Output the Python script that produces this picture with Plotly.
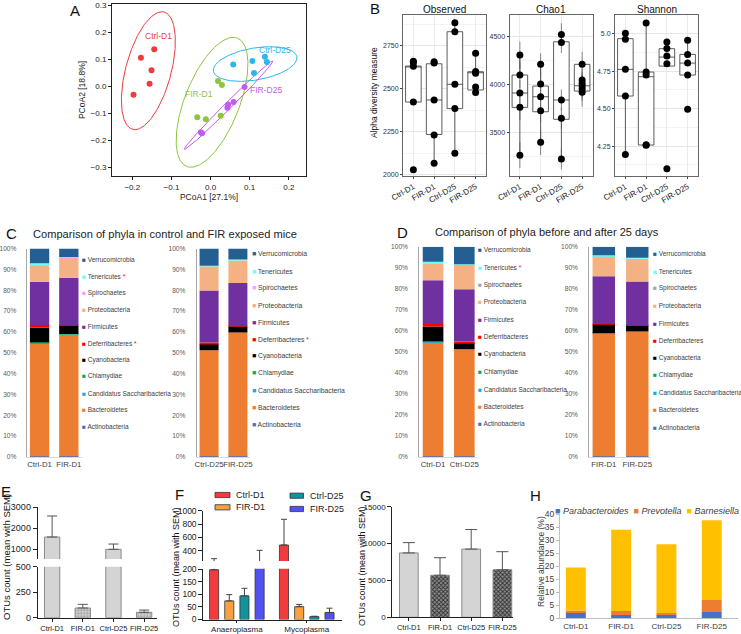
import numpy as np
import plotly.graph_objects as go

W, H = 741, 634


def fx(p):
    return p / W


def fy(p):
    return 1 - p / H


def dom_x(a, b):
    return [a / W, b / W]


def dom_y(t, b):
    return [1 - b / H, 1 - t / H]


SANS = "Liberation Sans, Arial, sans-serif"

# ---------------- Panel A: PCoA ----------------
pcoa_groups = ["Ctrl-D1", "FIR-D1", "Ctrl-D25", "FIR-D25"]
pcoa_colors = ["#EE3B3F", "#8CC63E", "#2CB7EA", "#C35BF2"]
ctrl_d1_pc1 = [-0.144, -0.178, -0.151, -0.156, -0.197]
ctrl_d1_pc2 = [0.137, 0.106, 0.060, 0.010, -0.031]
fir_d1_pc1 = [0.019, 0.029, -0.034, -0.012, 0.026]
fir_d1_pc2 = [0.020, 0.005, -0.114, -0.122, -0.109]
ctrl_d25_pc1 = [0.058, 0.107, 0.139, 0.144, 0.111]
ctrl_d25_pc2 = [0.081, 0.094, 0.110, 0.090, 0.049]
fir_d25_pc1 = [0.087, 0.059, 0.045, 0.043, -0.025, -0.022]
fir_d25_pc2 = [-0.002, -0.058, -0.067, -0.079, -0.170, -0.174]
# confidence ellipses: centre x, centre y, major semi-axis (dx, dy), minor semi-axis (dx, dy)
ellipse_ctrl_d1 = [-0.159, 0.058, 0.0402, 0.2173, 0.0561, -0.0217]
ellipse_fir_d1 = [0.0038, -0.059, 0.0648, 0.2377, 0.0650, -0.0372]
ellipse_ctrl_d25 = [0.1139, 0.0827, 0.1067, 0.0267, 0.0070, -0.0584]
ellipse_fir_d25 = [0.046, -0.0698, 0.113, 0.1636, 0.006, -0.0087]
pcoa_label_x = [-0.133, -0.029, 0.165, 0.141]
pcoa_label_y = [0.186, -0.028, 0.135, -0.014]

# ---------------- Panel B: alpha diversity ----------------
alpha_samples = ["Ctrl-D1", "FIR-D1", "Ctrl-D25", "FIR-D25"]
observed_values = [[2660, 2652, 2630, 2423, 2030],
                   [2657, 2650, 2435, 2232, 2068],
                   [2883, 2831, 2526, 2385, 2126],
                   [2706, 2600, 2590, 2510, 2478]]
observed_q1 = [2423, 2235, 2385, 2493]
observed_median = [2628, 2435, 2526, 2593]
observed_q3 = [2632, 2645, 2831, 2599]
observed_low = [2423, 2068, 2126, 2477]
observed_high = [2660, 2657, 2883, 2706]

chao1_values = [[4308, 4099, 3911, 3761, 3260],
                [4211, 4005, 3872, 3726, 3395],
                [4524, 4440, 3838, 3646, 3221],
                [4211, 4047, 4012, 3984, 3952, 3918]]
chao1_se = [[140, 135, 135, 135, 136],
            [114, 120, 120, 120, 132],
            [116, 110, 110, 110, 108],
            [131, 120, 120, 120, 120, 150]]
chao1_q1 = [3761, 3715, 3636, 3931]
chao1_median = [3911, 3872, 3838, 3987]
chao1_q3 = [4099, 3984, 4447, 4211]
chao1_low = [3260, 3395, 3221, 3918]
chao1_high = [4308, 4211, 4524, 4211]

shannon_values = [[5.003, 4.963, 4.762, 4.584, 4.193],
                  [5.071, 4.745, 4.725, 4.259, 4.255],
                  [4.945, 4.902, 4.851, 4.800, 4.099],
                  [4.956, 4.862, 4.804, 4.724, 4.495]]
shannon_q1 = [4.584, 4.257, 4.784, 4.724]
shannon_median = [4.762, 4.713, 4.844, 4.804]
shannon_q3 = [4.967, 4.744, 4.900, 4.862]
shannon_low = [4.193, 4.255, 4.784, 4.724]
shannon_high = [5.003, 5.071, 4.945, 4.956]

# ---------------- Panels C / D: phyla (stack order bottom -> top) ----------------
phyla = ["Actinobacteria", "Bacteroidetes", "Candidatus Saccharibacteria", "Chlamydiae",
         "Cyanobacteria", "Deferribacteres", "Firmicutes", "Proteobacteria",
         "Spirochaetes", "Tenericutes", "Verrucomicrobia"]
phyla_colors_c = ["#4472C4", "#ED7D31", "#00B0F0", "#00B050", "#000000", "#FF0000",
                  "#7030A0", "#F4B183", "#FF99FF", "#66FFFF", "#255E91"]
phyla_colors_d = ["#4472C4", "#ED7D31", "#00B0F0", "#00B050", "#000000", "#FF0000",
                  "#7030A0", "#F4B183", "#A5A5A5", "#66FFFF", "#255E91"]
phyla_ctrl_d1 = [0.3, 54.5, 0.1, 0.1, 7.0, 1.3, 20.8, 8.0, 0.0, 0.8, 7.1]
phyla_fir_d1 = [0.3, 58.5, 0.1, 0.1, 4.2, 0.1, 22.7, 9.6, 0.1, 0.2, 4.1]
phyla_ctrl_d25 = [0.3, 50.9, 0.0, 0.0, 3.0, 0.7, 24.9, 11.7, 0.0, 0.2, 8.3]
phyla_fir_d25 = [0.3, 59.4, 0.0, 0.0, 3.0, 0.1, 20.7, 10.8, 0.0, 0.4, 5.3]
pct_ticks = list(range(0, 101, 10))
pct_labels = ["%d%%" % v for v in pct_ticks]

# ---------------- Panel E ----------------
e_samples = ["Ctrl-D1", "FIR-D1", "Ctrl-D25", "FIR-D25"]
e_mean = [1586, 95, 1000, 53]
e_sem = [1000, 36, 252, 22]

# ---------------- Panel F ----------------
f_genera = ["Anaeroplasma", "Mycoplasma"]
f_series = ["Ctrl-D1", "FIR-D1", "Ctrl-D25", "FIR-D25"]
f_colors = ["#F23A3F", "#F7A23E", "#13929C", "#5252F2"]
f_ctrl_d1 = [198, 485]
f_fir_d1 = [74, 51]
f_ctrl_d25 = [94, 11.5]
f_fir_d25 = [210, 28]
f_ctrl_d1_sem = [82, 386]
f_fir_d1_sem = [25, 9]
f_ctrl_d25_sem = [30, 1.5]
f_fir_d25_sem = [195, 17]

# ---------------- Panel G ----------------
g_samples = ["Ctrl-D1", "FIR-D1", "Ctrl-D25", "FIR-D25"]
g_mean = [8730, 5700, 9250, 6450]
g_sem = [1400, 2380, 2650, 2450]

# ---------------- Panel H ----------------
h_samples = ["Ctrl-D1", "FIR-D1", "Ctrl-D25", "FIR-D25"]
h_genera = ["Parabacteroides", "Prevotella", "Barnesiella"]
h_colors = ["#4472C4", "#ED7D31", "#FFC000"]
h_parabacteroides = [2.3, 1.3, 1.4, 2.4]
h_prevotella = [0.7, 1.5, 0.6, 4.6]
h_barnesiella = [16.5, 31.2, 26.4, 30.6]

fig = go.Figure()
ann = []
shapes = []

# ================= Panel A =================
pc1 = [ctrl_d1_pc1, fir_d1_pc1, ctrl_d25_pc1, fir_d25_pc1]
pc2 = [ctrl_d1_pc2, fir_d1_pc2, ctrl_d25_pc2, fir_d25_pc2]
ells = [ellipse_ctrl_d1, ellipse_fir_d1, ellipse_ctrl_d25, ellipse_fir_d25]
t = np.linspace(0, 2 * np.pi, 240)
for g, xs, ys, el, col in zip(pcoa_groups, pc1, pc2, ells, pcoa_colors):
    ex = el[0] + el[2] * np.cos(t) + el[4] * np.sin(t)
    ey = el[1] + el[3] * np.cos(t) + el[5] * np.sin(t)
    fig.add_trace(go.Scatter(x=ex, y=ey, mode="lines", line=dict(color=col, width=1),
                             xaxis="x", yaxis="y", hoverinfo="skip"))
for g, xs, ys, el, col in zip(pcoa_groups, pc1, pc2, ells, pcoa_colors):
    fig.add_trace(go.Scatter(x=xs, y=ys, mode="markers", marker=dict(color=col, size=6),
                             xaxis="x", yaxis="y"))
for g, lx, ly, col in zip(pcoa_groups, pcoa_label_x, pcoa_label_y, pcoa_colors):
    ann.append(dict(x=lx, y=ly, xref="x", yref="y", text=g, showarrow=False,
                    xanchor="center", yanchor="middle",
                    font=dict(family=SANS, size=8.5, color=col)))

# ================= Panel B =================
facets = [
    ("x2", "y2", observed_values, None, observed_q1, observed_median, observed_q3, observed_low, observed_high),
    ("x3", "y3", chao1_values, chao1_se, chao1_q1, chao1_median, chao1_q3, chao1_low, chao1_high),
    ("x4", "y4", shannon_values, None, shannon_q1, shannon_median, shannon_q3, shannon_low, shannon_high),
]
for xa, ya, vals, se, q1, med, q3, lo, hi in facets:
    fig.add_trace(go.Box(x=alpha_samples, q1=q1, median=med, q3=q3, lowerfence=lo, upperfence=hi,
                         width=0.75, fillcolor="white", line=dict(color="#333333", width=0.8),
                         whiskerwidth=0, boxpoints=False, xaxis=xa, yaxis=ya))
    xs = [s for s, v in zip(alpha_samples, vals) for _ in v]
    ys = [u for v in vals for u in v]
    err = None
    if se is not None:
        err = dict(type="data", array=[u for v in se for u in v], color="#555555",
                   thickness=0.7, width=0)
    fig.add_trace(go.Scatter(x=xs, y=ys, mode="markers", marker=dict(color="black", size=7),
                             error_y=err, xaxis=xa, yaxis=ya))

# ================= Panels C / D =================
def stacked(xa, ya, names, samples, colors, width):
    arr = np.array(samples, dtype=float)  # samples x phyla
    base = np.cumsum(arr, axis=1) - arr
    for k in range(arr.shape[1]):
        fig.add_trace(go.Bar(x=names, y=arr[:, k], base=base[:, k], width=width, offset=-width / 2,
                             marker=dict(color=colors[k], line=dict(width=0)),
                             xaxis=xa, yaxis=ya))


stacked("x5", "y5", ["Ctrl-D1", "FIR-D1"], [phyla_ctrl_d1, phyla_fir_d1], phyla_colors_c, 0.66)
stacked("x6", "y6", ["Ctrl-D25", "FIR-D25"], [phyla_ctrl_d25, phyla_fir_d25], phyla_colors_c, 0.66)
stacked("x7", "y7", ["Ctrl-D1", "Ctrl-D25"], [phyla_ctrl_d1, phyla_ctrl_d25], phyla_colors_d, 0.66)
stacked("x8", "y8", ["FIR-D1", "FIR-D25"], [phyla_fir_d1, phyla_fir_d25], phyla_colors_d, 0.67)


def phyla_legend(xsq, y0, step, stars, colors, size=6.5):
    order = list(range(len(phyla)))[::-1]
    for i, k in enumerate(order):
        txt = "<span style='color:%s'>■</span> %s" % (colors[k], phyla[k])
        if phyla[k] in stars:
            txt += " <span style='color:#FF0000'>*</span>"
        ann.append(dict(x=fx(xsq), y=fy(y0 + i * step), xref="paper", yref="paper", text=txt,
                        showarrow=False, xanchor="left", yanchor="middle",
                        font=dict(family=SANS, size=size, color="#404040")))


phyla_legend(80.0, 259.3, 16.74, ["Tenericutes", "Deferribacteres"], phyla_colors_c)
phyla_legend(249.7, 254.0, 17.03, ["Deferribacteres"], phyla_colors_c, size=6.8)
phyla_legend(475.7, 249.7, 17.43, ["Tenericutes"], phyla_colors_d)
phyla_legend(650.5, 253.7, 17.33, [], phyla_colors_d)

# ================= Panel E (broken axis) =================
e_patterns = ["", ".", "", "."]
for xa, ya in (("x9", "y9"), ("x10", "y10")):
    fig.add_trace(go.Bar(x=e_samples, y=e_mean, width=0.5, offset=-0.25,
                         marker=dict(color="#D4D4D4", line=dict(color="#8A8A8A", width=1),
                                     pattern=dict(shape=e_patterns, fgcolor="#8C8C8C",
                                                  bgcolor="#D4D4D4", size=3, solidity=0.3)),
                         error_y=dict(type="data", symmetric=False, array=e_sem,
                                      arrayminus=[0] * len(e_sem), color="#555555",
                                      thickness=1, width=5),
                         xaxis=xa, yaxis=ya))

# ================= Panel F (broken axis) =================
f_means = [f_ctrl_d1, f_fir_d1, f_ctrl_d25, f_fir_d25]
f_sems = [f_ctrl_d1_sem, f_fir_d1_sem, f_ctrl_d25_sem, f_fir_d25_sem]
slot = 0.217
bw = 0.13
for xa, ya in (("x11", "y11"), ("x12", "y12")):
    for i, (name, m, s, col) in enumerate(zip(f_series, f_means, f_sems, f_colors)):
        centre = (i - 1.5) * slot
        fig.add_trace(go.Bar(x=f_genera, y=m, width=bw, offset=centre - bw / 2,
                             marker=dict(color=col, line=dict(color="#333333", width=0.8)),
                             error_y=dict(type="data", symmetric=False, array=s,
                                          arrayminus=[0] * len(s), color="#444444",
                                          thickness=1, width=3),
                             xaxis=xa, yaxis=ya))

# ================= Panel G =================
fig.add_trace(go.Bar(x=g_samples, y=g_mean, width=0.6, offset=-0.3,
                     marker=dict(color="#D4D4D4", line=dict(color="#8A8A8A", width=1),
                                 pattern=dict(shape=["", "x", "", "x"], fgcolor="#2E2E2E",
                                              bgcolor="#8F8F8F", size=3, solidity=0.5)),
                     error_y=dict(type="data", symmetric=False, array=g_sem,
                                  arrayminus=[0] * len(g_sem), color="#555555",
                                  thickness=1, width=6),
                     xaxis="x13", yaxis="y13"))

# ================= Panel H =================
h_arr = np.array([h_parabacteroides, h_prevotella, h_barnesiella], dtype=float)
h_base = np.cumsum(h_arr, axis=0) - h_arr
for k in range(3):
    fig.add_trace(go.Bar(x=h_samples, y=h_arr[k], base=h_base[k], width=0.44, offset=-0.22,
                         marker=dict(color=h_colors[k], line=dict(width=0)),
                         xaxis="x14", yaxis="y14"))

# ================= Axes =================
lay = {}
axA = dict(showline=True, mirror=True, linecolor="#222222", linewidth=1, ticks="outside",
           ticklen=3, tickcolor="#222222", showgrid=False, zeroline=False, automargin=False,
           tickfont=dict(family=SANS, size=8, color="#222222"), tickformat=".1f")
lay["xaxis"] = dict(axA, domain=dom_x(112, 306), range=[-0.252, 0.244], anchor="y",
                    tickvals=[-0.2, -0.1, 0.0, 0.1, 0.2],
                    title=dict(text="PCoA1 [27.1%]", font=dict(family=SANS, size=8.5), standoff=3))
lay["yaxis"] = dict(axA, domain=dom_y(4, 176), range=[-0.332, 0.305], anchor="x",
                    tickvals=[-0.3, -0.2, -0.1, 0.0, 0.1, 0.2, 0.3],
                    title=dict(text="PCoA2 [18.8%]", font=dict(family=SANS, size=8.5), standoff=3))

bx_dom = [(403, 486), (509.5, 592.5), (615, 698)]
by_rng = [[1994, 2928], [3043, 4727], [4.05, 5.125]]
by_ticks = [([2000, 2250, 2500, 2750], ["2000", "2250", "2500", "2750"], 125),
            ([3500, 4000, 4500], ["3500", "4000", "4500"], 250),
            ([4.25, 4.5, 4.75, 5.0], ["4.25", "4.50", "4.75", "5.0"], 0.125)]
for j in range(3):
    n = j + 2
    lay["xaxis%d" % n] = dict(domain=dom_x(*bx_dom[j]), anchor="y%d" % n, type="category",
                              categoryorder="array", categoryarray=alpha_samples,
                              range=[-0.5, 3.5], showline=True, mirror=True, linecolor="#666666",
                              linewidth=1, showgrid=True, gridcolor="#EBEBEB", gridwidth=1,
                              ticks="outside", ticklen=2, tickcolor="#444444", tickangle=-30,
                              automargin=False,
                              tickfont=dict(family=SANS, size=8, color="#222222"))
    tv, tt, mdt = by_ticks[j]
    lay["yaxis%d" % n] = dict(domain=dom_y(15, 176), anchor="x%d" % n, range=by_rng[j],
                              tickvals=tv, ticktext=tt, showline=True, mirror=True,
                              linecolor="#666666", linewidth=1, showgrid=True, gridcolor="#E6E6E6",
                              zeroline=False, ticks="outside", ticklen=2, tickcolor="#444444",
                              automargin=False,
                              tickfont=dict(family=SANS, size=7, color="#333333"),
                              minor=dict(tickmode="linear", tick0=0, dtick=mdt, showgrid=True,
                                         gridcolor="#F3F3F3", ticks=""))

cd_x = [("x5", (26.7, 81.7), [-0.44, 1.44], (248.5, 457), 8),
        ("x6", (196.7, 250.0), [-0.43, 1.42], (248.5, 457), 9),
        ("x7", (419.3, 476.5), [-0.44, 1.39], (246.7, 457), 9),
        ("x8", (589.3, 651.0), [-0.433, 1.41], (246.7, 457), 9)]
for xa, xd, xr, yd, sto in cd_x:
    n = xa[1:]
    lay["xaxis%s" % n] = dict(domain=dom_x(*xd), anchor="y%s" % n, range=xr, type="category",
                              showline=True, linecolor="#D9D9D9", linewidth=1, ticks="",
                              showgrid=False, automargin=False, tickangle=0,
                              tickfont=dict(family=SANS, size=7.8, color="#404040"))
    lay["yaxis%s" % n] = dict(domain=dom_y(*yd), anchor="x%s" % n, range=[0, 100],
                              tickvals=pct_ticks, ticktext=pct_labels,
                              showline=True, linecolor="#A6A6A6", linewidth=1, ticks="",
                              ticklabelstandoff=sto, showgrid=False, zeroline=False,
                              automargin=False,
                              tickfont=dict(family=SANS, size=6.6, color="#595959"))


def prism_y(dom, rng, tv, anchor, size=9):
    return dict(domain=dom, range=rng, tickvals=tv, tickformat="d", showline=True,
                linecolor="#222222", linewidth=1, ticks="outside", ticklen=4,
                tickcolor="#222222", tickfont=dict(family=SANS, size=size, color="#222222"),
                showgrid=False, zeroline=False, anchor=anchor, automargin=False)


def prism_x(dom, rng, anchor, size=7.5, ticklen=3):
    return dict(domain=dom, range=rng, type="category", showline=True, linecolor="#222222",
                linewidth=1, ticks="outside", ticklen=ticklen, tickcolor="#222222", tickangle=0,
                tickfont=dict(family=SANS, size=size, color="#222222"), showgrid=False,
                zeroline=False, anchor=anchor, automargin=False)


hidden_x = dict(type="category", visible=False, showgrid=False, zeroline=False, automargin=False)
# E
lay["xaxis9"] = dict(hidden_x, domain=dom_x(37.7, 156.7), range=[-0.47, 3.41], anchor="y9")
lay["yaxis9"] = prism_y(dom_y(507.3, 559), [540, 3000], [1000, 2000, 3000], "x9")
lay["xaxis10"] = prism_x(dom_x(37.7, 156.7), [-0.47, 3.41], "y10")
lay["yaxis10"] = prism_y(dom_y(566.7, 617.7), [0, 500], [0, 250, 500], "x10")
# F
lay["xaxis11"] = dict(hidden_x, domain=dom_x(203.3, 341.7), range=[-0.48, 1.5], anchor="y11")
lay["yaxis11"] = prism_y(dom_y(510.7, 561), [245, 1000], [400, 600, 800, 1000], "x11", size=8.5)
lay["xaxis12"] = prism_x(dom_x(203.3, 341.7), [-0.48, 1.5], "y12", size=8, ticklen=2)
lay["yaxis12"] = prism_y(dom_y(568.7, 619.5), [0, 202], [0, 50, 100, 150, 200], "x12", size=8.5)
# G
lay["xaxis13"] = prism_x(dom_x(392.3, 513.3), [-0.53, 3.35], "y13")
lay["yaxis13"] = prism_y(dom_y(506.7, 617.3), [0, 15000], [0, 5000, 10000, 15000], "x13", size=8)
# H
lay["xaxis14"] = dict(domain=dom_x(560, 738), range=[-0.35, 3.58], type="category", anchor="y14",
                      showline=True, linecolor="#BFBFBF", linewidth=1, ticks="", showgrid=False,
                      automargin=False, tickangle=0,
                      tickfont=dict(family=SANS, size=8, color="#404040"))
lay["yaxis14"] = dict(domain=dom_y(514, 618.3), range=[0, 40], dtick=5, anchor="x14",
                      showline=True, linecolor="#BFBFBF", linewidth=1, ticks="outside",
                      ticklen=3, tickcolor="#BFBFBF", showgrid=False, zeroline=False,
                      automargin=False,
                      tickfont=dict(family=SANS, size=8.5, color="#404040"))

# ================= Text annotations =================
def pann(x, y, text, size, **kw):
    d = dict(x=fx(x), y=fy(y), xref="paper", yref="paper", text=text, showarrow=False,
             xanchor="center", yanchor="middle",
             font=dict(family=kw.pop("family", SANS), size=size, color=kw.pop("color", "#111111")))
    d.update(kw)
    ann.append(d)


for letter, x, y in [("A", 75, 10), ("B", 375, 8.5), ("C", 11, 234), ("D", 402.5, 232.5),
                     ("E", 6, 492), ("F", 179.5, 494), ("G", 366, 495), ("H", 535, 495)]:
    pann(x, y, letter, 15)

pann(444.5, 9, "Observed", 10)
pann(551, 9, "Chao1", 10)
pann(656.5, 9, "Shannon", 10)
pann(374, 93, "Alpha diversity measure", 8.5, textangle=-90)

pann(31, 234, "Comparison of phyla in control and FIR exposed mice", 11.1, xanchor="left",
     color="#222222")
pann(433.3, 231.7, "Comparison of phyla before and after 25 days", 11, xanchor="left",
     color="#222222")

pann(6, 557, "OTUs count (mean with SEM)", 9.5, textangle=-90)
pann(176, 567, "OTUs count (mean with SEM)", 9, textangle=-90)
pann(362, 566, "OTUs count (mean with SEM)", 9, textangle=-90)
pann(541, 562, "Relative abundance (%)", 8.5, textangle=-90, color="#404040")

# F legend
f_leg = [(215, 230, 495.0, 234.3), (215, 230, 507.3, 234.3),
         (290, 303.5, 495.7, 307.7), (290, 303.5, 509.0, 307.7)]
for (x0, x1, yc, xt), name, col in zip(f_leg, f_series, f_colors):
    shapes.append(dict(type="rect", xref="paper", yref="paper", x0=fx(x0), x1=fx(x1),
                       y0=fy(yc + 2.6), y1=fy(yc - 2.6), fillcolor=col,
                       line=dict(color="#333333", width=0.8)))
    pann(xt, yc, name, 9, xanchor="left", color="#222222")

# H legend (one line)
h_leg_text = "&nbsp;&nbsp;".join("<span style='color:%s'>■</span> <i>%s</i>" % (c, n)
                                 for n, c in zip(h_genera, h_colors))
pann(553, 511, h_leg_text, 9, xanchor="left", color="#404040")

fig.update_layout(template="none", width=W, height=H, margin=dict(l=0, r=0, t=0, b=0, pad=0),
                  paper_bgcolor="white", plot_bgcolor="white", showlegend=False,
                  barmode="overlay", hovermode=False,
                  font=dict(family=SANS, size=9, color="#222222"),
                  annotations=ann, shapes=shapes, **lay)

fig.write_html("out.html", config={"displayModeBar": False},
               post_script="document.body.style.margin='0px';document.body.style.padding='0px';")
